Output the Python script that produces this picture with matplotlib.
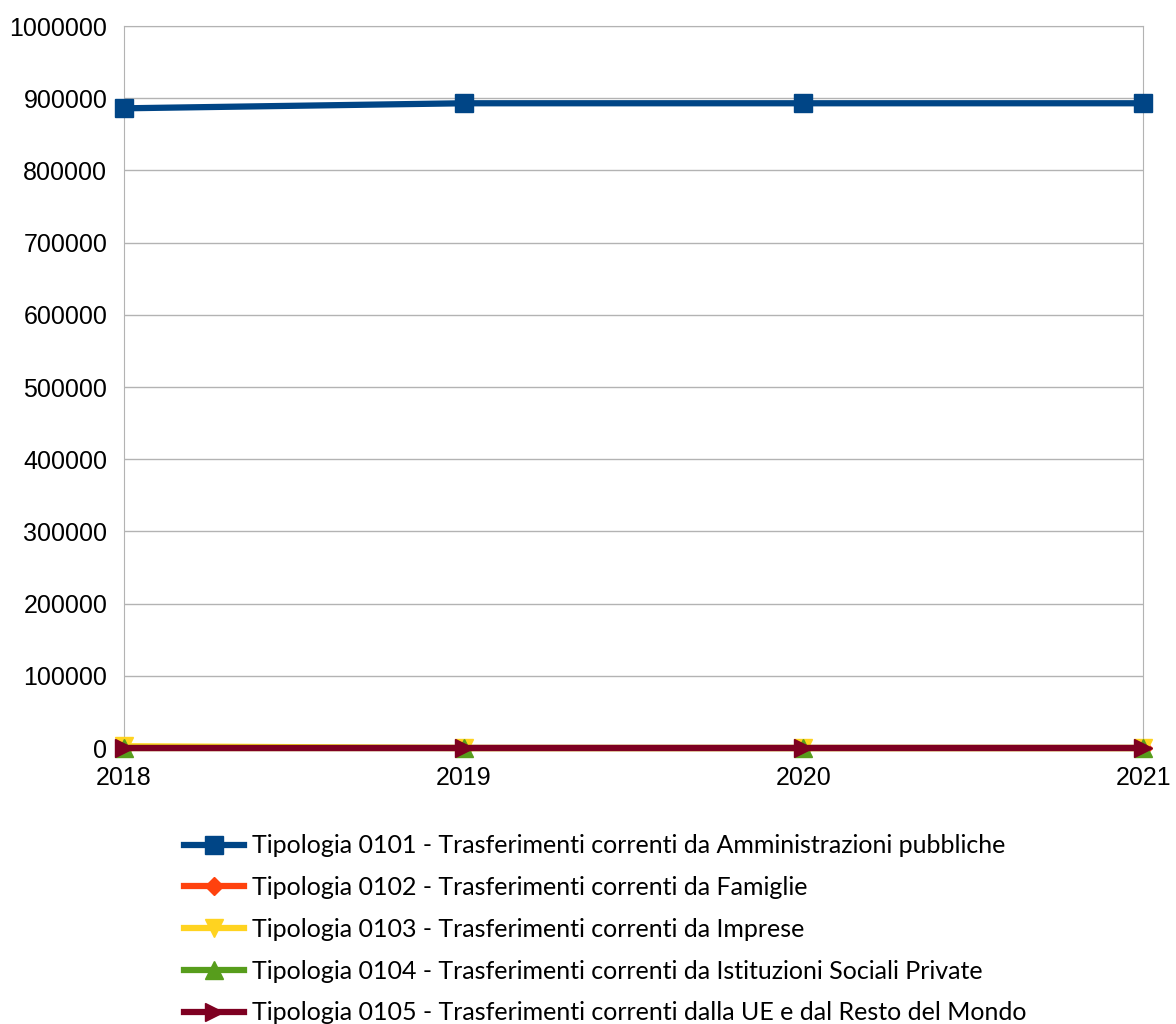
import numpy as np
import matplotlib.pyplot as plt

anni = ["2018", "2019", "2020", "2021"]
t0101 = [886000, 893000, 893000, 893000]
t0102 = [0, 0, 0, 0]
t0103 = [2500, 0, 0, 0]
t0104 = [0, 0, 0, 0]
t0105 = [0, 0, 0, 0]

nomi = ["Tipologia 0101 - Trasferimenti correnti da Amministrazioni pubbliche",
        "Tipologia 0102 - Trasferimenti correnti da Famiglie",
        "Tipologia 0103 - Trasferimenti correnti da Imprese",
        "Tipologia 0104 - Trasferimenti correnti da Istituzioni Sociali Private",
        "Tipologia 0105 - Trasferimenti correnti dalla UE e dal Resto del Mondo"]
serie = [t0101, t0102, t0103, t0104, t0105]
colori = ["#004586", "#ff420e", "#ffd320", "#579d1c", "#7e0021"]
marcatori = ["s", "D", "v", "^", ">"]
msize = [13, 9, 13, 13, 13]

fig = plt.figure(figsize=(11.76, 10.24), dpi=100)
ax = fig.add_axes([0.1054, 0.2695, 0.8666, 0.7051])
x = np.arange(len(anni))
linee = []
for s, c, m, ms, n in zip(serie, colori, marcatori, msize, nomi):
    l, = ax.plot(x, s, color=c, marker=m, markersize=ms, linewidth=4.5,
                 label=n, clip_on=False, zorder=3)
    linee.append(l)

ax.set_xlim(0, 3)
ax.set_ylim(0, 1000000)
ax.set_yticks(np.arange(0, 1000001, 100000))
ax.set_yticklabels([str(v) for v in range(0, 1000001, 100000)])
ax.set_xticks(x)
ax.set_xticklabels(anni)
ax.grid(True, axis="y", color="#b3b3b3", linewidth=1)
for sp in ax.spines.values():
    sp.set_color("#b3b3b3")
for lab in ax.get_xticklabels() + ax.get_yticklabels():
    lab.set_family("Liberation Sans")
ax.tick_params(axis="both", labelsize=18, color="#b3b3b3", length=5)
ax.tick_params(axis="y", length=0, pad=12)
ax.tick_params(axis="x", pad=8)

fig.legend(handles=linee, loc="upper left", bbox_to_anchor=(0.148, 0.195),
           frameon=False, prop={"family": "Lato", "size": 18},
           handlelength=2.4, handletextpad=0.3, labelspacing=0.75,
           markerscale=1.0, borderaxespad=0)

plt.savefig("out.png", dpi=100)
